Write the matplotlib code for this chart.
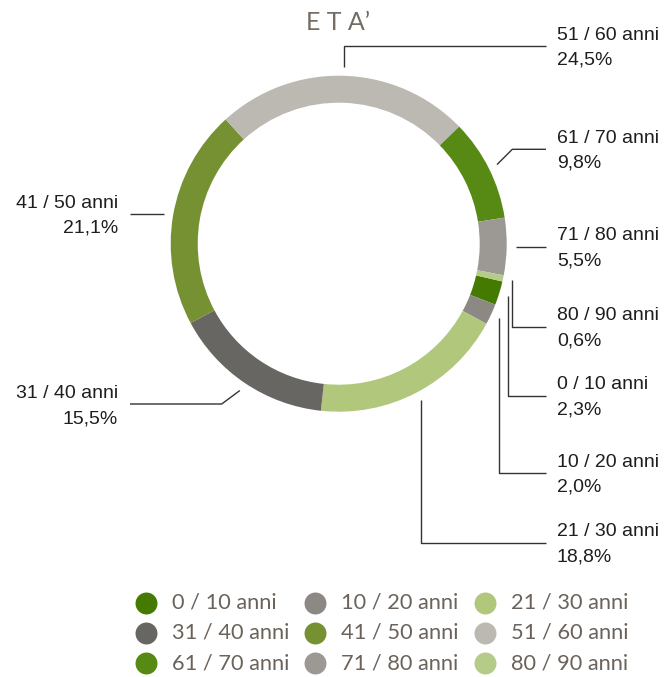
import numpy as np
import matplotlib
matplotlib.use("Agg")
import matplotlib.pyplot as plt

# data
labels = ["0 / 10 anni", "10 / 20 anni", "21 / 30 anni", "31 / 40 anni", "41 / 50 anni",
          "51 / 60 anni", "61 / 70 anni", "71 / 80 anni", "80 / 90 anni"]
values = [2.3, 2.0, 18.8, 15.5, 21.1, 24.5, 9.8, 5.5, 0.6]
pct_text = ["2,3%", "2,0%", "18,8%", "15,5%", "21,1%", "24,5%", "9,8%", "5,5%", "0,6%"]
colors = ["#457a00", "#8c8984", "#b0c77c", "#676662", "#759132",
          "#bcb8b2", "#568a15", "#9c9994", "#b5cb88"]

W, H = 667, 677
def Y(y):
    return H - y

fig = plt.figure(figsize=(W / 100, H / 100), dpi=100)
ax = fig.add_axes([0, 0, 1, 1])
ax.set_xlim(0, W)
ax.set_ylim(0, H)
ax.set_aspect("equal")
ax.axis("off")

cx, cy, R = 338.7, Y(243.7), 168
wedges, _ = ax.pie(values, colors=colors, center=(cx, cy), radius=R, startangle=-13,
                   counterclock=False, wedgeprops=dict(width=27, linewidth=0))
ax.set_xlim(0, W)
ax.set_ylim(0, H)

ax.text(338, Y(23), "E T A\u2019", ha="center", va="center", fontsize=18,
        family="Lato", fontweight="normal", color="#756d64")

# leader lines: routing per label (elbow points in pixel coords)
LC = "#333333"
XR = 546
routes = {
    5: ("v", 46),
    6: ("d", (512.3, 149.3)),
    7: ("h", None),
    8: ("v", 326.7),
    0: ("v", 395.7),
    1: ("v", 473.3),
    2: ("v", 542.7),
    4: ("hl", None),
    3: ("dl", (221.7, 404)),
}
lab_font = dict(family="Liberation Sans", fontsize=14, color="#1e1e1e", va="center")
for i, w in enumerate(wedges):
    mid = np.deg2rad((w.theta1 + w.theta2) / 2)
    sx = cx + 177 * np.cos(mid)
    sy = cy + 177 * np.sin(mid)
    kind, p = routes[i]
    if kind == "v":
        xs, ys = [sx, sx, XR], [sy, Y(p), Y(p)]
        ly, side = Y(p), "r"
    elif kind == "d":
        xs, ys = [sx, p[0], XR], [sy, Y(p[1]), Y(p[1])]
        ly, side = Y(p[1]), "r"
    elif kind == "h":
        xs, ys = [sx, XR], [sy, sy]
        ly, side = sy, "r"
    elif kind == "hl":
        xs, ys = [sx, 130], [sy, sy]
        ly, side = sy, "l"
    else:
        xs, ys = [sx, p[0], 130], [sy, Y(p[1]), Y(p[1])]
        ly, side = Y(p[1]), "l"
    ax.plot(xs, ys, color=LC, lw=1.0, solid_capstyle="butt")
    if side == "r":
        ax.text(557, ly + 11, labels[i], ha="left", **lab_font)
        ax.text(557, ly - 14, pct_text[i], ha="left", **lab_font)
    else:
        ax.text(118, ly + 10.5, labels[i], ha="right", **lab_font)
        ax.text(118, ly - 14.5, pct_text[i], ha="right", **lab_font)

# legend
col_x = [145.7, 315, 485]
row_y = [602.7, 632.7, 663.3]
for i, (lab, c) in enumerate(zip(labels, colors)):
    r, k = divmod(i, 3)
    ax.scatter(col_x[k], Y(row_y[r]), s=250, color=c, linewidths=0)
    ax.text(col_x[k] + 26, Y(row_y[r]), lab, ha="left", va="center", fontsize=15.7,
            family="Lato", color="#6b635b")

fig.savefig("out.png", dpi=100)
